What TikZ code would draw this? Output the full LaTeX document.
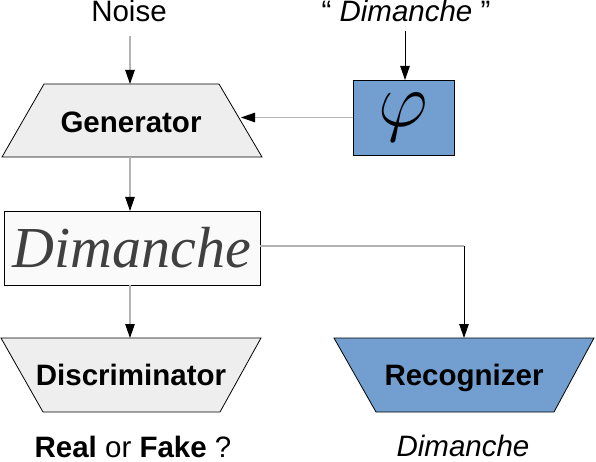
\documentclass[tikz,border=0pt]{standalone}
\usepackage{fontspec}
\usepackage{graphicx}
\setmainfont{Liberation Sans}
\newfontfamily\handfont{Liberation Serif}
\usetikzlibrary{arrows.meta}
\definecolor{lobluefill}{RGB}{114,159,207}
\definecolor{lograyfill}{RGB}{238,238,238}
\definecolor{lolinegray}{RGB}{179,179,179}
\begin{document}
\begin{tikzpicture}[x=1pt,y=-1pt,
  every node/.style={font=\fontsize{29.5}{32}\selectfont, outer sep=0pt},
  label/.style={anchor=base},
  boldlabel/.style={anchor=base, font=\fontsize{29.5}{32}\selectfont\bfseries},
  shapeline/.style={draw=black, line width=0.8pt},
  graybox/.style={shapeline, fill=lograyfill},
  bluebox/.style={shapeline, fill=lobluefill},
  grayline/.style={draw=lolinegray, line width=1.1pt},
  blackline/.style={draw=black, line width=0.9pt},
  tip/.style={-{Triangle[length=14pt,width=9.5pt,color=black,fill=black]}}
]
\useasboundingbox (0,0) rectangle (596,462);

% shapes
\filldraw[graybox] (44,84) -- (219,84) -- (262,157) -- (2,157) -- cycle;
\filldraw[graybox] (1,338) -- (261,338) -- (220,412) -- (43,412) -- cycle;
\filldraw[bluebox] (334,338) -- (594,338) -- (554,412) -- (376,412) -- cycle;

% nodes
\node[label] (noise) at (129,22) {Noise};
\node[label] (word) at (406,22) {\textquotedblleft\ \textit{Dimanche} \textquotedblright};
\node[boldlabel] (gen) at (131,133) {Generator};
\node[bluebox, minimum width=101pt, minimum height=75pt, inner sep=0pt] (phi) at (403.5,117.5) {\scalebox{3.1}{$\varphi$}};
\node[shapeline, fill={rgb,255:red,250;green,250;blue,250}, minimum width=256pt, minimum height=74pt, inner sep=0pt] (img) at (132,248)
  {\handfont\itshape\fontsize{58}{58}\selectfont\color{black!75}Dimanche};
\node[boldlabel] (disc) at (131,385) {Discriminator};
\node[boldlabel] (rec) at (464,385) {Recognizer};
\node[label] (rf) at (133,457) {\textbf{Real} or \textbf{Fake} ?};
\node[label] (out) at (463,456) {\textit{Dimanche}};

% connector endpoints
\coordinate (n0) at (130,36);
\coordinate (gentop) at (130,84);
\coordinate (genbot) at (130,157);
\coordinate (genright) at (241,117.5);
\coordinate (disctop) at (130,338);
\coordinate (rectop) at (464,338);
\coordinate (d0) at (405,31);
\coordinate (corner) at (464,246);

% connectors
\draw[grayline, tip] (n0) -- (gentop);
\draw[blackline, tip] (d0) -- (d0 |- phi.north);
\draw[grayline, tip] (phi.west) -- (genright);
\draw[grayline, tip] (genbot) -- (genbot |- img.north);
\draw[grayline, tip] (genbot |- img.south) -- (disctop);
\draw[grayline] (img.east |- corner) -- (corner);
\draw[blackline, tip] (corner) -- (rectop);
\end{tikzpicture}
\end{document}
